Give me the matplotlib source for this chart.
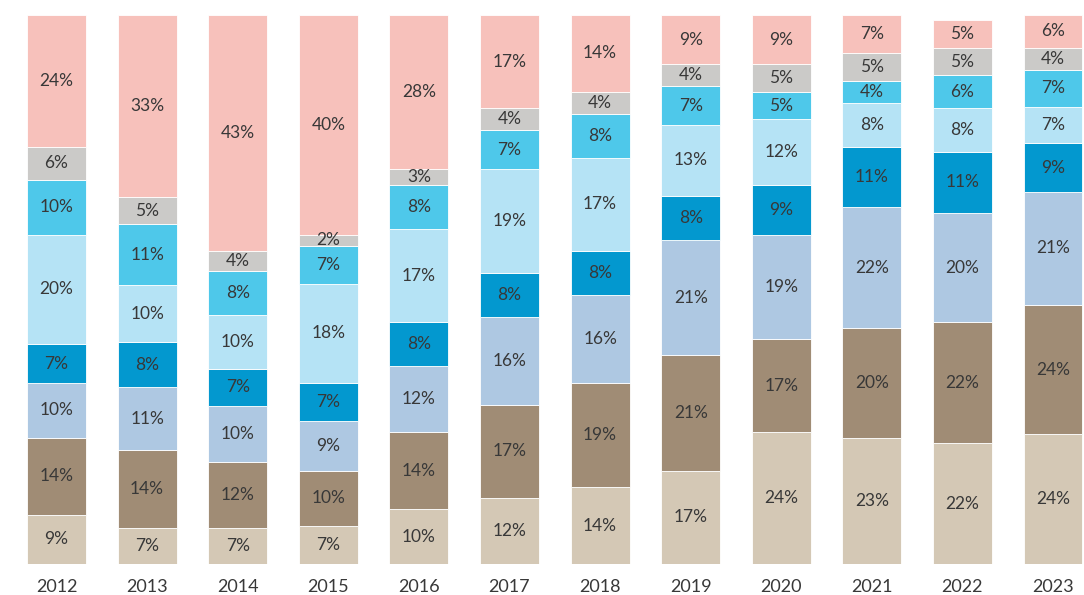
import matplotlib
matplotlib.use("Agg")
import matplotlib.pyplot as plt
import numpy as np

years = ["2012", "2013", "2014", "2015", "2016", "2017", "2018", "2019", "2020", "2021", "2022", "2023"]
# segments bottom to top (labels are rounded)
seg1 = [9, 6.6, 6.6, 7, 10, 12, 14, 17, 24, 23, 22, 23.6]
seg2 = [14, 14.2, 12.0, 10, 14, 17, 19, 21, 17, 20, 22, 23.6]
seg3 = [10, 11.4, 10.2, 9, 12, 16, 16, 21, 19, 22, 20, 20.6]
seg4 = [7, 8.2, 6.8, 7, 8, 8, 8, 8, 9, 11, 11, 8.8]
seg5 = [20, 10.4, 9.8, 18, 17, 19, 17, 13, 12, 8, 8, 6.7]
seg6 = [10, 11.1, 8.0, 7, 8, 7, 8, 7, 5, 4, 6, 6.7]
seg7 = [6, 4.9, 3.6, 2, 3, 4, 4, 4, 5, 5, 5, 4.0]
seg8 = [24, 33.2, 43.0, 40, 28, 17, 14, 9, 9, 7, 5, 6.0]

series = [seg1, seg2, seg3, seg4, seg5, seg6, seg7, seg8]
colors = ["#d4c8b5", "#a08c75", "#aec8e2", "#0398cf", "#b5e3f5", "#4ec8ea", "#cbcac8", "#f7c1bb"]

plt.rcParams['font.family'] = ['Lato', 'DejaVu Sans']

fig = plt.figure(figsize=(10.84, 5.95), dpi=100)
ax = fig.add_axes([0, 31/595, 1, (580-31)/595])

x = np.arange(len(years))
bottom = np.zeros(len(years))
for vals, col in zip(series, colors):
    vals = np.array(vals, dtype=float)
    ax.bar(x, vals, bottom=bottom, width=0.65, color=col, edgecolor="white", linewidth=0.6)
    for xi, b, v in zip(x, bottom, vals):
        ax.text(xi, b + v / 2, f"{v:.0f}%", ha="center", va="center", fontsize=12.5, color="#383838")
    bottom += vals

ax.set_xlim(-0.624, 11.342)
ax.set_ylim(0, 100)
ax.set_xticks(x)
ax.set_xticklabels(years, fontsize=13, color="#383838")
ax.tick_params(axis="x", length=0, pad=11)
ax.set_yticks([])
for s in ax.spines.values():
    s.set_visible(False)

fig.savefig("out.png", dpi=100)
